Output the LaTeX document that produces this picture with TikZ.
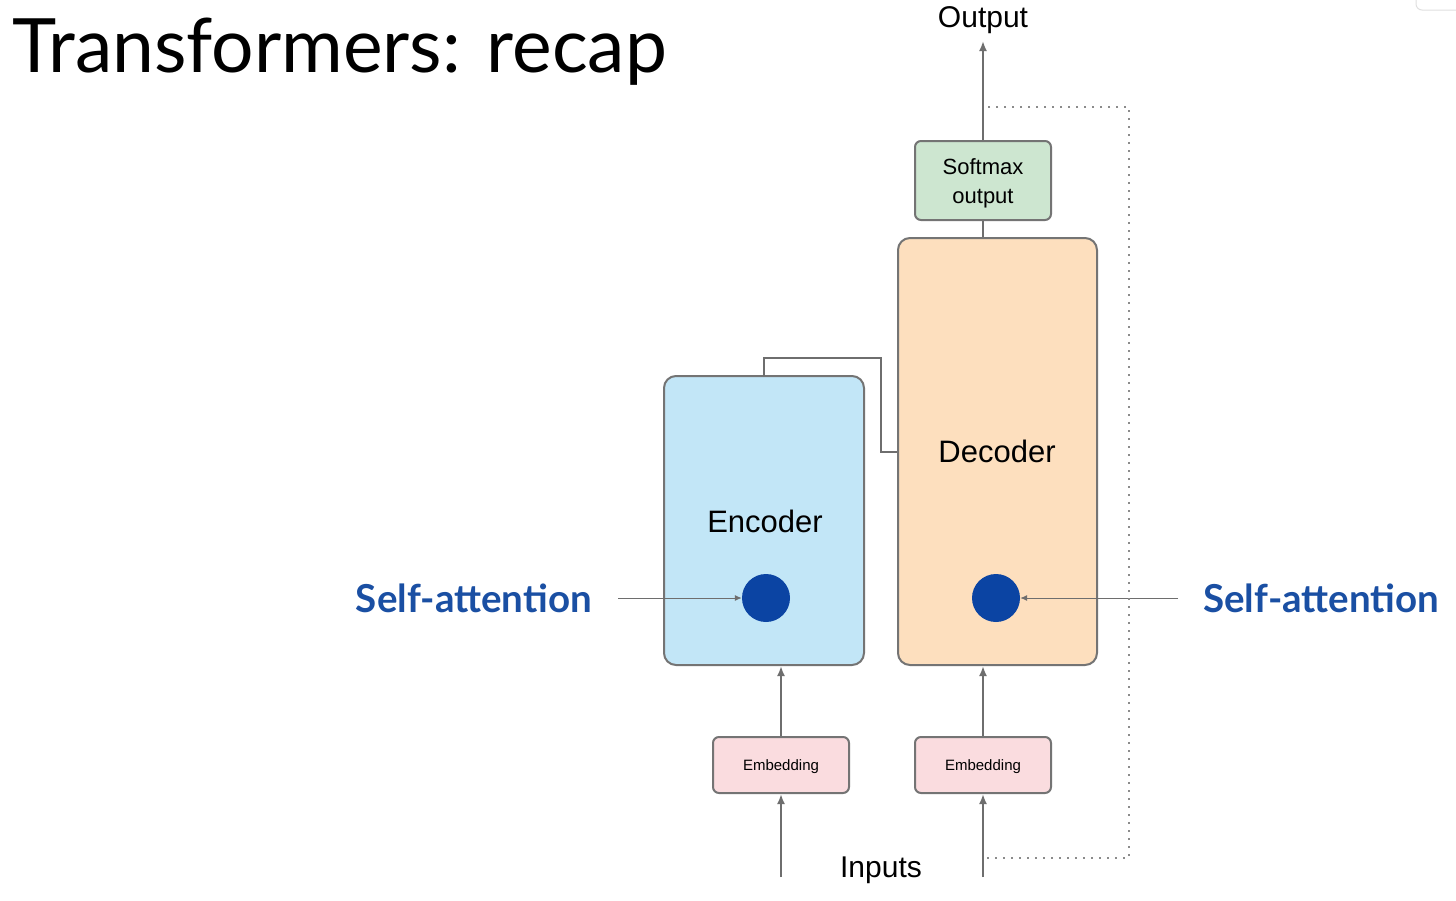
\documentclass[tikz,border=0pt]{standalone}
\usepackage{fontspec}
\setmainfont{Liberation Sans}
\newfontfamily\latofont{Lato}
\usetikzlibrary{arrows.meta}
\definecolor{linegray}{HTML}{6E6E6E}
\definecolor{boxborder}{HTML}{747474}
\definecolor{encfill}{HTML}{C2E6F7}
\definecolor{decfill}{HTML}{FDDFBE}
\definecolor{smfill}{HTML}{CDE6D0}
\definecolor{embfill}{HTML}{FADCDF}
\definecolor{dotblue}{HTML}{0B44A3}
\definecolor{attnblue}{HTML}{1A4FA3}
\begin{document}
\begin{tikzpicture}[x=1pt,y=-1pt,
  block/.style={draw=boxborder, line width=2pt, rounded corners=12pt, inner sep=0pt},
  smallbox/.style={draw=boxborder, line width=2pt, rounded corners=6pt, inner sep=0pt, align=center},
  flow/.style={draw=linegray, line width=2pt, -{Latex[length=10pt,width=8pt]}},
  wire/.style={draw=linegray, line width=2pt},
  thinarrow/.style={draw=linegray, line width=1pt, -{Latex[length=7pt,width=6pt]}},
  loopback/.style={draw=linegray!80, line width=2pt, dash pattern={on 2pt off 6pt}},
  attnlabel/.style={text=attnblue, font=\latofont\bfseries\fontsize{38.5}{42}\selectfont, inner sep=0pt},
  dot/.style={circle, fill=dotblue, minimum size=48pt, inner sep=0pt}
]
\useasboundingbox (0,0) rectangle (1456,900);
\fill[white] (0,0) rectangle (1456,900);

% corner tab of the slide viewer
\draw[black!12, line width=1pt, rounded corners=6pt] (1416,-20) rectangle (1470,10);

% title
\node[anchor=base west, inner sep=0pt, font=\latofont\fontsize{75}{80}\selectfont] (title) at (12,72) {Transformers: recap};

% main blocks
\node[block, fill=encfill, minimum width=200pt, minimum height=289pt] (enc) at (764,520.5) {};
\node[block, fill=decfill, minimum width=199pt, minimum height=427pt] (dec) at (997.5,451.5) {};
\node[font=\fontsize{31}{34}\selectfont] (enclabel) at (765,521) {Encoder};
\node[font=\fontsize{31}{34}\selectfont] (declabel) at (997,451) {Decoder};

% softmax and embeddings
\node[smallbox, fill=smfill, minimum width=136pt, minimum height=79pt] (soft) at (983,180.5) {};
\node[align=center, font=\fontsize{22}{29}\selectfont, inner sep=0pt] (softlabel) at (983,183) {Softmax\\output};
\node[smallbox, fill=embfill, minimum width=136pt, minimum height=56pt, font=\fontsize{15}{18}\selectfont, text depth=0pt, text height=10.5pt] (emb1) at (781,765) {Embedding};
\node[smallbox, fill=embfill, minimum width=136pt, minimum height=56pt, font=\fontsize{15}{18}\selectfont, text depth=0pt, text height=10.5pt] (emb2) at (983,765) {Embedding};

% self-attention dots
\node[dot] (attn1) at (766,598) {};
\node[dot] (attn2) at (996,598) {};

% text labels
\node[font=\fontsize{30}{33}\selectfont, inner sep=0pt] (out) at (983,20.5) {Output};
\node[font=\fontsize{30}{33}\selectfont, inner sep=0pt] (inp) at (881,870) {Inputs};
\node[attnlabel, anchor=east] (lattn) at (592,598) {Self-attention};
\node[attnlabel, anchor=west] (rattn) at (1203,598) {Self-attention};

% free ends of the open connectors
\coordinate (outtip) at (983,41);
\coordinate (in1) at (781,877);
\coordinate (in2) at (983,877);
\coordinate (lstart) at (618,598);
\coordinate (rstart) at (1178,598);

% data flow
\draw[flow] (in1) -- (emb1.south);
\draw[flow] (in2) -- (emb2.south);
\draw[flow] (emb1.north) -- (emb1.north |- enc.south);
\draw[flow] (emb2.north) -- (emb2.north |- dec.south);
\draw[wire] (soft.south) -- (soft.south |- dec.north);
\draw[flow] (soft.north) -- (outtip);

% encoder output into the decoder
\draw[wire] (764,376) -- (764,358) -- (881,358) -- (881,452) -- (dec.west |- 0,452);

% self-attention pointers
\draw[thinarrow] (lstart) -- (attn1.west);
\draw[thinarrow] (rstart) -- (attn2.east);

% output fed back as the next input
\draw[loopback] (987,858) -- (1129,858) -- (1129,107) -- (987,107);
\end{tikzpicture}
\end{document}
